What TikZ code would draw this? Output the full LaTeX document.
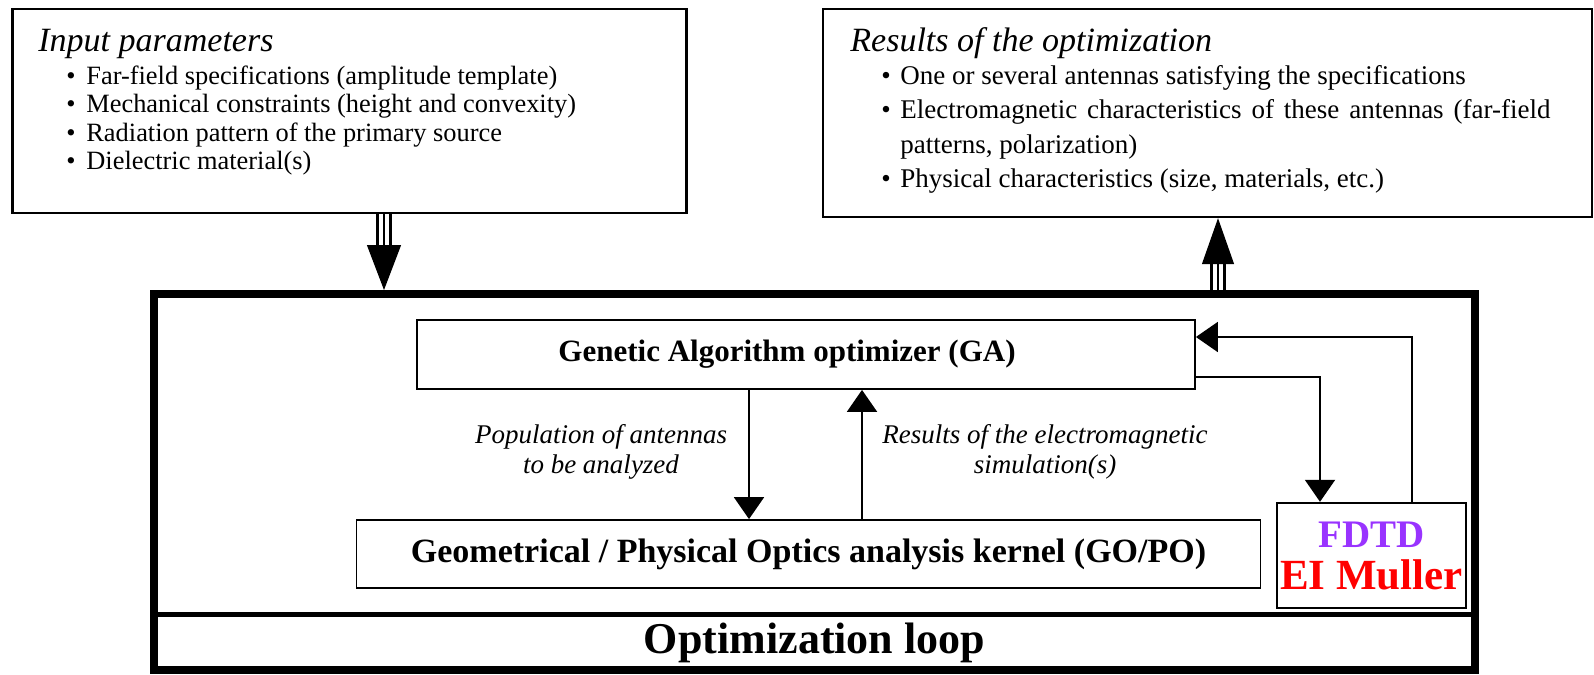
\documentclass[tikz,border=0pt]{standalone}
\usepackage{fontspec}
\setmainfont{Liberation Serif}
\usetikzlibrary{arrows.meta}
\definecolor{fdtdpurple}{RGB}{153,51,255}
\begin{document}
\begin{tikzpicture}[x=0.5pt,y=-0.5pt]
\tikzstyle{every node}+=[inner sep=0pt]
\tikzstyle{box}=[draw, rectangle, line width=1.2pt]
\tikzstyle{item}=[anchor=base west, font=\fontsize{13.2}{15}\selectfont]
\tikzstyle{ritem}=[anchor=base west, font=\fontsize{13.5}{15}\selectfont]
\tikzstyle{title}=[anchor=base west, font=\fontsize{17}{20}\selectfont\itshape]
\tikzstyle{note}=[align=center, font=\fontsize{13.5}{15.3}\selectfont\itshape]
\tikzstyle{arr}=[line width=1pt, -{Triangle[length=11pt,width=15pt]}]
\tikzstyle{shaft}=[line width=1.2pt]
\useasboundingbox (0,0) rectangle (1594,674);

\node[box, minimum width=337pt, minimum height=102pt] (input) at (349.5,111) {};
\node[box, minimum width=384.5pt, minimum height=104pt] (results) at (1207.5,113) {};
\node[draw, line width=4pt, minimum width=660.5pt, minimum height=188pt] (frame) at (814.5,482) {};
\coordinate (divy) at (0,614);
\draw[line width=2.5pt] (frame.west |- divy) -- (frame.east |- divy);
\node[font=\fontsize{22}{24}\selectfont\bfseries] (looplabel) at (814.5,643) {Optimization loop};

\node[title] (intitle) at (38,52) {Input parameters};
\foreach \t [count=\i] in {Far-field specifications (amplitude template),
    Mechanical constraints (height and convexity),
    Radiation pattern of the primary source,
    Dielectric material(s)}
  \node[item] (in\i) at (66,{84+28.5*(\i-1)}) {\makebox[10pt][l]{\textbullet}\t};

\node[title] (restitle) at (850,52) {Results of the optimization};
\node[ritem] (res1) at (881,84) {\makebox[9.5pt][l]{\textbullet}One or several antennas satisfying the specifications};
\node[ritem] (res2) at (881,118.5) {\makebox[9.5pt][l]{\textbullet}\makebox[325pt][s]{Electromagnetic characteristics of these antennas (far-field}};
\node[ritem] (res2b) at (900,153) {patterns, polarization)};
\node[ritem] (res3) at (881,187.5) {\makebox[9.5pt][l]{\textbullet}Physical characteristics (size, materials, etc.)};

\node[box, line width=0.9pt, minimum width=389pt, minimum height=34.5pt, font=\fontsize{15.5}{18}\selectfont\bfseries] (ga) at (806,354.5) {Genetic Algorithm optimizer (GA)\hspace*{19pt}};
\node[box, line width=0.9pt, minimum width=452pt, minimum height=34pt, font=\fontsize{17}{18}\selectfont\bfseries] (gopo) at (808.5,554) {Geometrical / Physical Optics analysis kernel (GO/PO)};
\node[box, minimum width=94.5pt, minimum height=52.5pt, align=center, font=\fontsize{21}{21}\selectfont\bfseries] (fdtd) at (1371.5,555.5) {\textcolor{fdtdpurple}{\fontsize{19.5}{21}\selectfont FDTD}\\\textcolor{red}{\fontsize{21.5}{21}\selectfont EI Muller}};

\node[note] (poplabel) at (601,452) {Population of antennas\\to be analyzed};
\node[note] (simlabel) at (1045,452) {Results of the electromagnetic\\simulation(s)};

\coordinate (popx) at (749,0);
\coordinate (resx) at (862,0);
\draw[arr] (ga.south -| popx) -- (gopo.north -| popx);
\draw[arr] (gopo.north -| resx) -- (ga.south -| resx);

\coordinate (outy) at (0,377);
\coordinate (fdx) at (1320,0);
\coordinate (backx) at (1412,0);
\coordinate (backy) at (0,337);
\draw[arr] (ga.east |- outy) -| (fdtd.north -| fdx);
\draw[arr] (fdtd.north -| backx) |- (ga.east |- backy);

\coordinate (inx) at (384,249);
\foreach \dx in {-3.25,0,3.25}
  \draw[shaft] ([xshift=\dx pt]input.south -| inx) -- ([xshift=\dx pt]inx);
\draw[line width=0.6pt, -{Triangle[length=22.5pt,width=17pt]}] (inx) -- (frame.north -| inx);

\coordinate (outx) at (1218,263);
\foreach \dx in {-3.25,0,3.25}
  \draw[shaft] ([xshift=\dx pt]frame.north -| outx) -- ([xshift=\dx pt]outx);
\draw[line width=0.6pt, -{Triangle[length=23pt,width=16pt]}] (outx) -- (results.south -| outx);
\end{tikzpicture}
\end{document}
